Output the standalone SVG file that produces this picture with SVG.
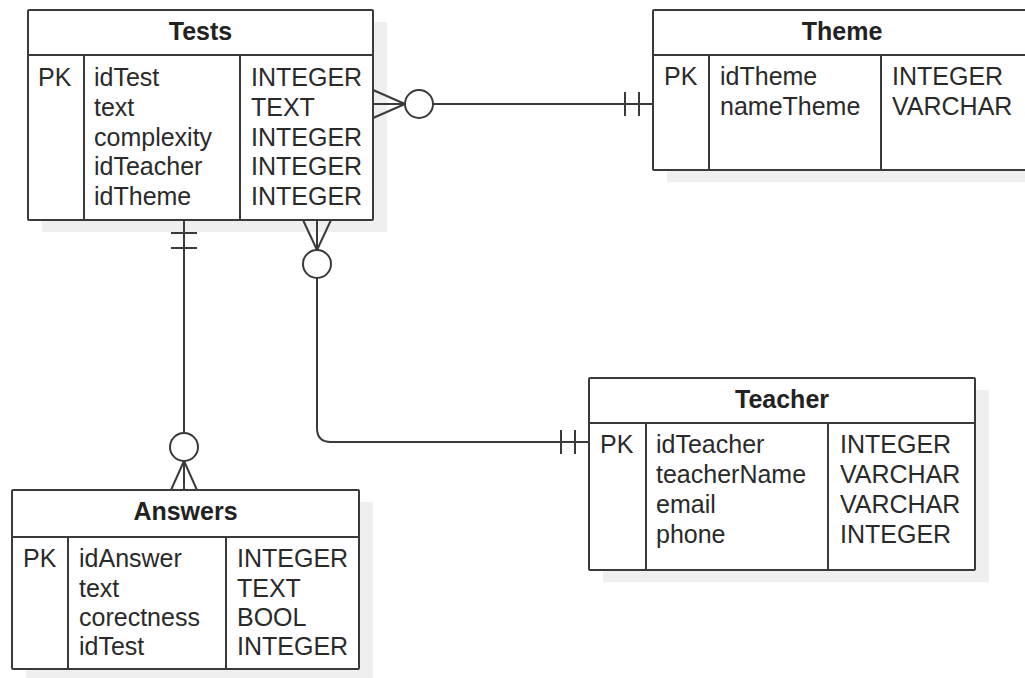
<svg xmlns="http://www.w3.org/2000/svg" width="1025" height="678" viewBox="0 0 1025 678">
<style>
.shadow{fill:#efefef;stroke:none}
.box{fill:#ffffff;stroke:#3a3a3a;stroke-width:2}
.ln{stroke:#3a3a3a;stroke-width:2;fill:none}
.title{font-family:"Liberation Sans",Arial,sans-serif;font-size:25px;font-weight:bold;fill:#222;text-anchor:middle}
.t{font-family:"Liberation Sans",Arial,sans-serif;font-size:25px;fill:#2a2a2a}
.c{fill:#ffffff;stroke:#3a3a3a;stroke-width:2}
</style>
<rect width="1025" height="678" fill="#ffffff"/>

<g id="Tests">
<rect class="shadow" x="42" y="22" width="345" height="210"/>
<rect class="box" x="28" y="10" width="345" height="210" rx="1"/>
<line class="ln" x1="28" y1="55" x2="373" y2="55"/>
<line class="ln" x1="84" y1="55" x2="84" y2="220"/>
<line class="ln" x1="240" y1="55" x2="240" y2="220"/>
<text class="title" x="200.5" y="40">Tests</text>
<text class="t" x="38" y="86">PK</text>
<text class="t" x="94" y="86">idTest</text>
<text class="t" x="94" y="116">text</text>
<text class="t" x="94" y="146">complexity</text>
<text class="t" x="94" y="175">idTeacher</text>
<text class="t" x="94" y="205">idTheme</text>
<text class="t" x="251" y="86">INTEGER</text>
<text class="t" x="251" y="116">TEXT</text>
<text class="t" x="251" y="146">INTEGER</text>
<text class="t" x="251" y="175">INTEGER</text>
<text class="t" x="251" y="205">INTEGER</text>
</g>

<g id="Theme">
<rect class="shadow" x="667" y="22" width="378" height="160"/>
<rect class="box" x="653" y="10" width="378" height="160" rx="1"/>
<line class="ln" x1="653" y1="55" x2="1031" y2="55"/>
<line class="ln" x1="709" y1="55" x2="709" y2="170"/>
<line class="ln" x1="881" y1="55" x2="881" y2="170"/>
<text class="title" x="842" y="40">Theme</text>
<text class="t" x="664" y="85">PK</text>
<text class="t" x="720" y="85">idTheme</text>
<text class="t" x="720" y="115">nameTheme</text>
<text class="t" x="892" y="85">INTEGER</text>
<text class="t" x="892" y="115">VARCHAR</text>
</g>

<g id="Answers">
<rect class="shadow" x="26" y="502" width="347" height="179"/>
<rect class="box" x="12" y="490" width="347" height="179" rx="1"/>
<line class="ln" x1="12" y1="537" x2="359" y2="537"/>
<line class="ln" x1="68" y1="537" x2="68" y2="669"/>
<line class="ln" x1="226" y1="537" x2="226" y2="669"/>
<text class="title" x="185.5" y="520">Answers</text>
<text class="t" x="23" y="567">PK</text>
<text class="t" x="79" y="567">idAnswer</text>
<text class="t" x="79" y="597">text</text>
<text class="t" x="79" y="626">corectness</text>
<text class="t" x="79" y="655">idTest</text>
<text class="t" x="237" y="567">INTEGER</text>
<text class="t" x="237" y="597">TEXT</text>
<text class="t" x="237" y="626">BOOL</text>
<text class="t" x="237" y="655">INTEGER</text>
</g>

<g id="Teacher">
<rect class="shadow" x="603" y="390" width="386" height="192"/>
<rect class="box" x="589" y="378" width="386" height="192" rx="1"/>
<line class="ln" x1="589" y1="423" x2="975" y2="423"/>
<line class="ln" x1="646" y1="423" x2="646" y2="570"/>
<line class="ln" x1="828" y1="423" x2="828" y2="570"/>
<text class="title" x="782" y="408">Teacher</text>
<text class="t" x="600" y="453">PK</text>
<text class="t" x="656" y="453">idTeacher</text>
<text class="t" x="656" y="483">teacherName</text>
<text class="t" x="656" y="513">email</text>
<text class="t" x="656" y="543">phone</text>
<text class="t" x="840" y="453">INTEGER</text>
<text class="t" x="840" y="483">VARCHAR</text>
<text class="t" x="840" y="513">VARCHAR</text>
<text class="t" x="840" y="543">INTEGER</text>
</g>

<g id="connectors">
<!-- Tests - Theme -->
<path class="ln" d="M373,90 L405,104 M373,104 L405,104 M373,118 L405,104"/>
<circle class="c" cx="419" cy="104" r="14"/>
<line class="ln" x1="433" y1="104" x2="653" y2="104"/>
<line class="ln" x1="625" y1="92" x2="625" y2="116"/>
<line class="ln" x1="639" y1="92" x2="639" y2="116"/>
<!-- Tests - Answers -->
<line class="ln" x1="184" y1="220" x2="184" y2="433"/>
<line class="ln" x1="171" y1="233" x2="197" y2="233"/>
<line class="ln" x1="171" y1="248" x2="197" y2="248"/>
<circle class="c" cx="184" cy="447" r="14"/>
<path class="ln" d="M184,461 L171,490 M184,461 L184,490 M184,461 L197,490"/>
<!-- Tests - Teacher -->
<path class="ln" d="M303,220 L317,250 M317,220 L317,250 M331,220 L317,250"/>
<circle class="c" cx="317" cy="264" r="14"/>
<path class="ln" d="M317,278 L317,428 Q317,442 331,442 L589,442"/>
<line class="ln" x1="561" y1="430" x2="561" y2="454"/>
<line class="ln" x1="575" y1="430" x2="575" y2="454"/>
</g>
</svg>
